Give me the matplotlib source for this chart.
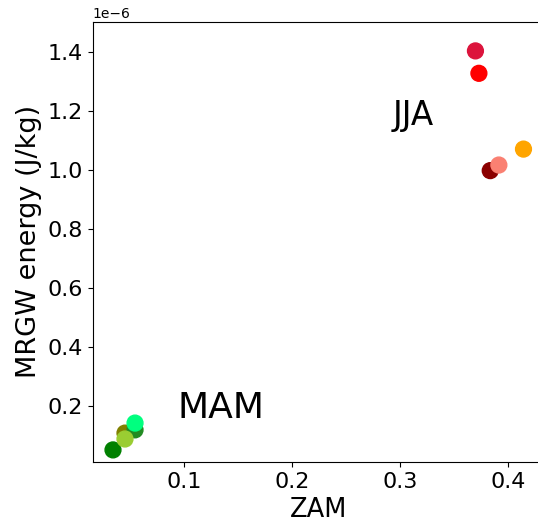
import matplotlib
matplotlib.use("Agg")
import matplotlib.pyplot as plt

# Data (ZAM vs MRGW energy, J/kg)
mam_zam = [0.0343, 0.0454, 0.0547, 0.0454, 0.0547]
mam_energy = [0.050e-6, 0.107e-6, 0.118e-6, 0.087e-6, 0.141e-6]
mam_colors = ["green", "olive", "forestgreen", "yellowgreen", "springgreen"]

jja_zam = [0.370, 0.3732, 0.3837, 0.3917, 0.4145]
jja_energy = [1.403e-6, 1.327e-6, 0.997e-6, 1.016e-6, 1.070e-6]
jja_colors = ["crimson", "red", "darkred", "salmon", "orange"]

fig = plt.figure(figsize=(5.38, 5.29), dpi=100)
W, H = 538, 529
left, right, bottom, top = 92.7, 544.0, 462.0, 21.7
ax = fig.add_axes([left / W, 1 - bottom / H, (right - left) / W, (bottom - top) / H])

ax.scatter(mam_zam, mam_energy, c=mam_colors, s=130, zorder=3)
ax.scatter(jja_zam, jja_energy, c=jja_colors, s=130, zorder=3)

ax.text(0.2936, 1.1515e-6, "JJA", fontsize=23.5, ha="left", va="baseline")
ax.text(0.0938, 0.157e-6, "MAM", fontsize=26, ha="left", va="baseline")

ax.set_xlim(0.0155, 0.4335)
ax.set_ylim(0.009e-6, 1.502e-6)
ax.set_xticks([0.1, 0.2, 0.3, 0.4])
ax.set_yticks([0.2e-6, 0.4e-6, 0.6e-6, 0.8e-6, 1.0e-6, 1.2e-6, 1.4e-6])
ax.tick_params(labelsize=16)
ax.spines["right"].set_visible(False)
ax.set_xlabel("ZAM", fontsize=18.5)
ax.set_ylabel("MRGW energy (J/kg)", fontsize=19.5)

fig.savefig("out.png", dpi=100)
